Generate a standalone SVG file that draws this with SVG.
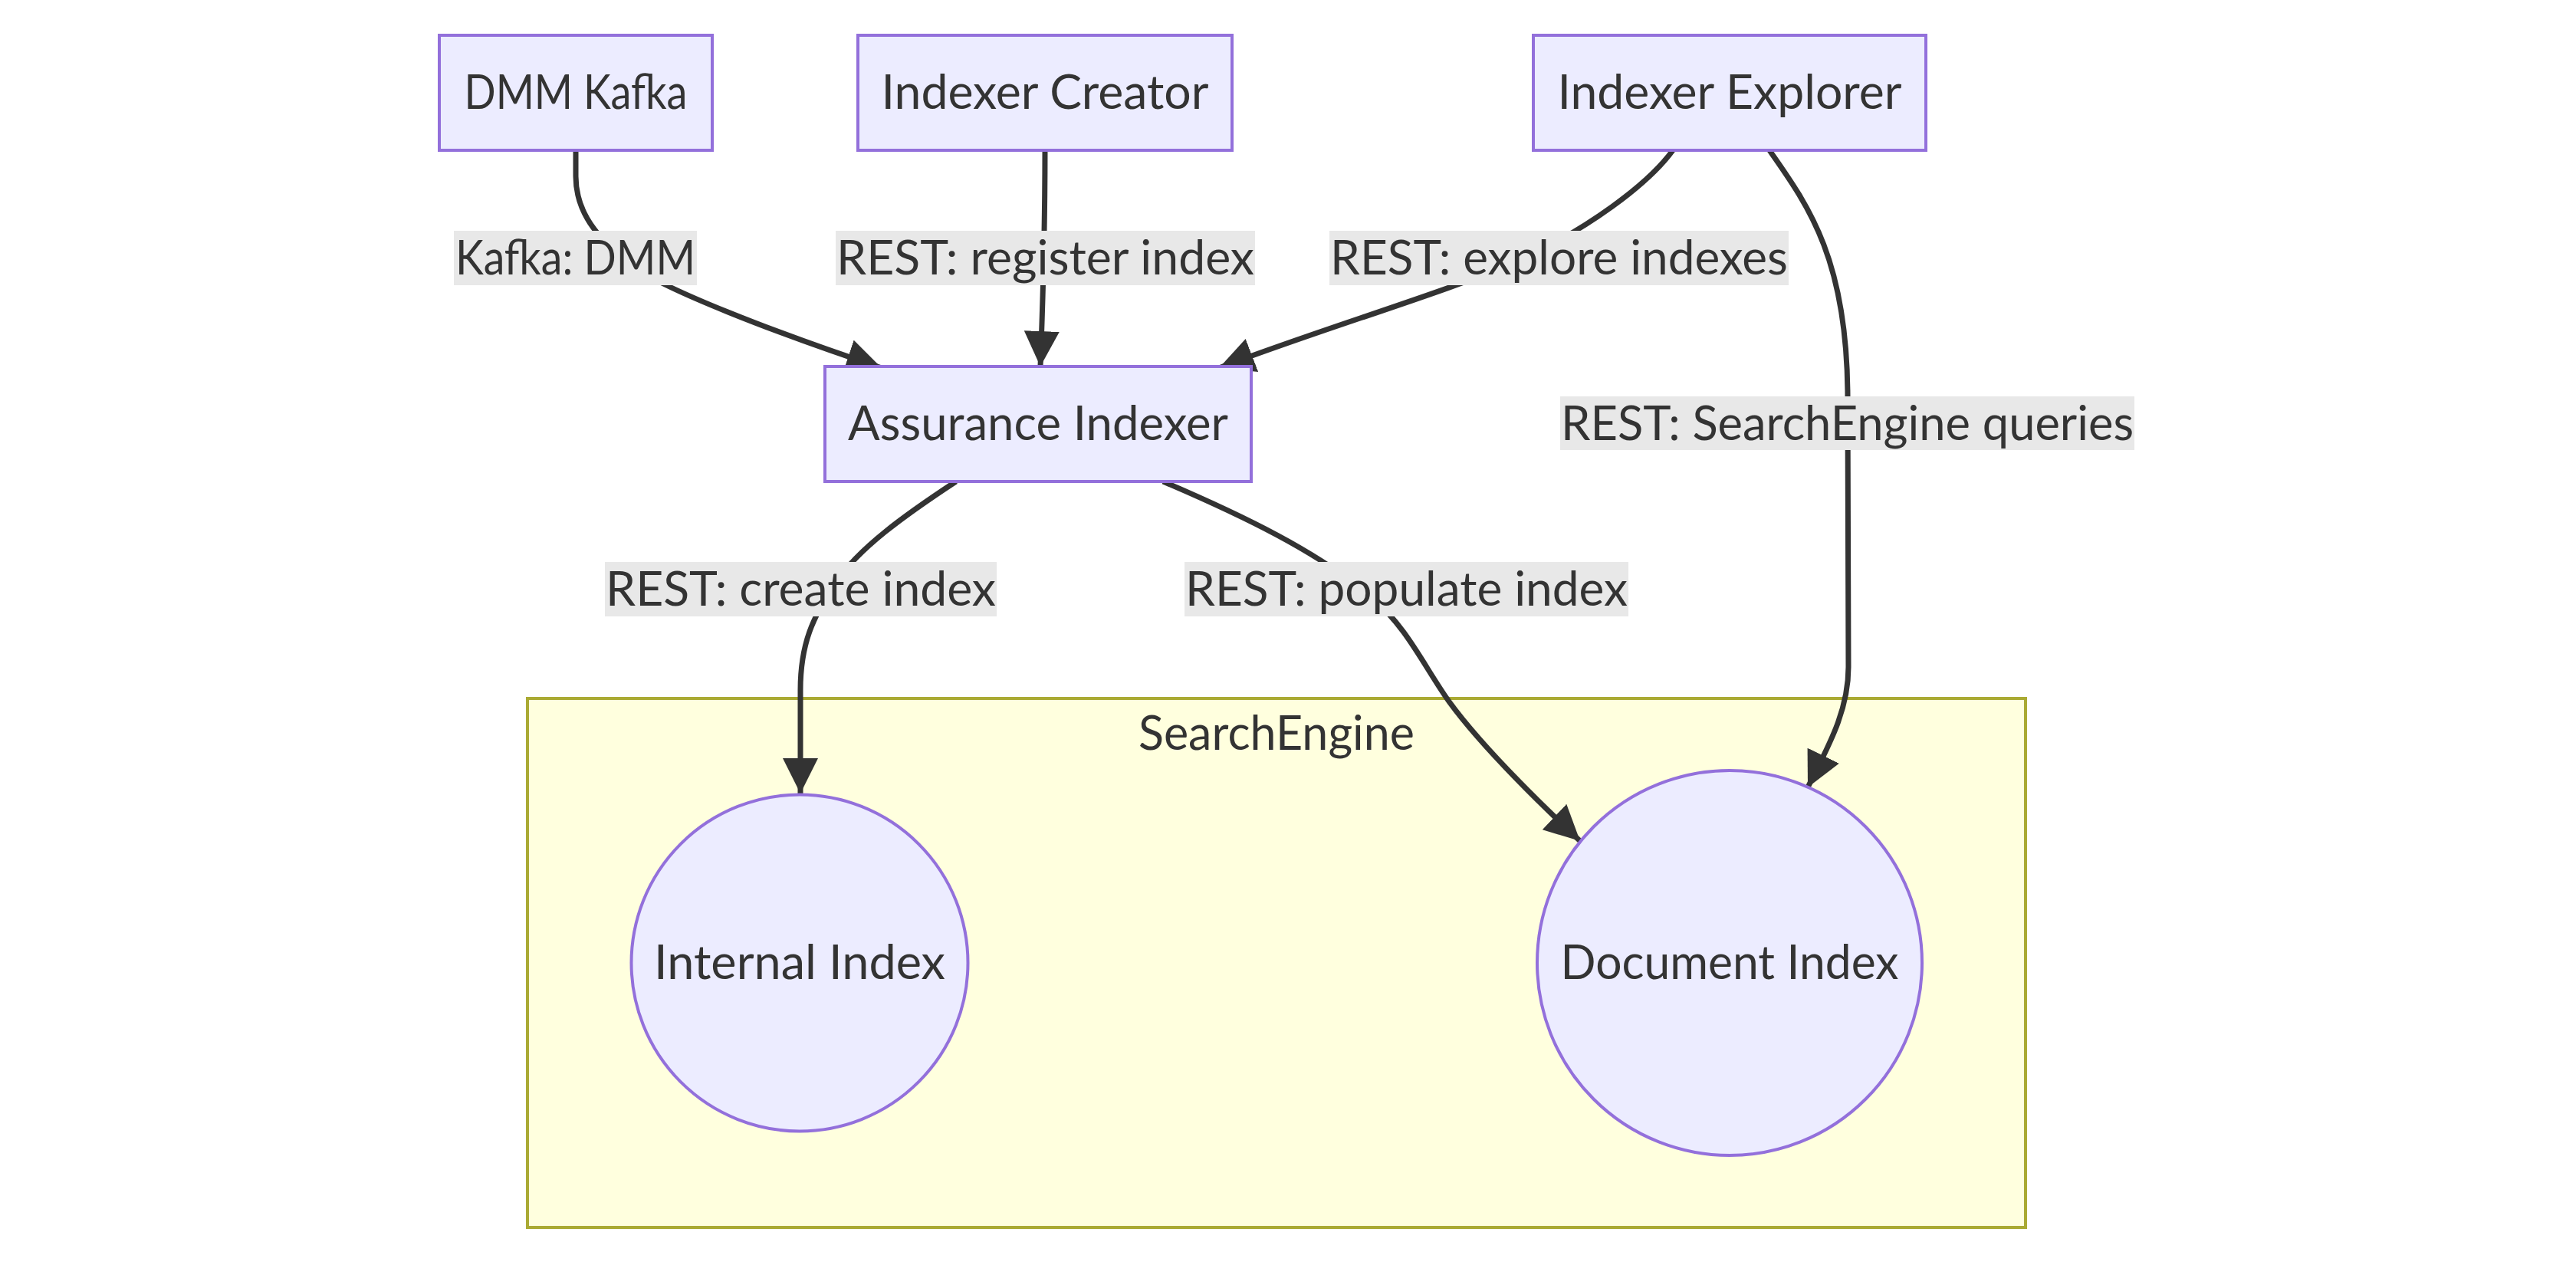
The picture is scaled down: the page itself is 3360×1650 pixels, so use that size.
<svg xmlns="http://www.w3.org/2000/svg" width="3360" height="1650" viewBox="0 0 3360 1650">
<style>
  text { font-family: Lato, "Liberation Sans", sans-serif; font-size: 62px; fill: #333333; text-anchor: middle; }
  .node rect, .node circle { fill: #ECECFF; stroke: #9370DB; stroke-width: 4; }
  .cluster rect { fill: #FFFFDE; stroke: #AAAA33; stroke-width: 4; }
  .edge { fill: none; stroke: #333333; stroke-width: 7; marker-end: url(#arrow); }
  .elabel rect { fill: #E8E8E8; }
</style>
<defs>
  <marker id="arrow" viewBox="0 0 10 10" refX="10" refY="5" markerUnits="userSpaceOnUse" markerWidth="46" markerHeight="46" orient="auto">
    <path d="M0,0 L10,5 L0,10 z" fill="#333333"/>
  </marker>
</defs>
<rect x="0" y="0" width="3360" height="1650" fill="#FFFFFF"/>

<g id="cluster-SearchEngine" class="cluster">
  <rect x="688" y="911" width="1954" height="690"/>
  <text x="1665" y="978" textLength="360" lengthAdjust="spacingAndGlyphs">SearchEngine</text>
</g>

<g id="connectors">
  <path id="e-kafka" class="edge" d="M751,196 L751,230 C751,285 790,320 830,350 C870,378 1000,430 1150,480"/>
  <path id="e-creator" class="edge" d="M1363,196 C1363,300 1360,400 1357,478"/>
  <path id="e-explore" class="edge" d="M2182,196 C2150,240 2070,300 1980,340 C1890,380 1720,430 1590,480"/>
  <path id="e-queries" class="edge" d="M2308,196 C2360,270 2410,340 2410,520 L2411,870 C2411,930 2382,978 2358,1027"/>
  <path id="e-create" class="edge" d="M1247,628 C1180,672 1120,715 1090,760 C1060,805 1044,840 1044,900 L1044,1035"/>
  <path id="e-populate" class="edge" d="M1517,628 C1620,672 1720,720 1790,780 C1835,818 1858,870 1890,915 C1930,970 1995,1035 2061,1097"/>
</g>

<g id="edge-labels">
  <g class="elabel"><rect x="592" y="301" width="317" height="71"/><text x="750.5" y="358" textLength="313" lengthAdjust="spacingAndGlyphs">Kafka: DMM</text></g>
  <g class="elabel"><rect x="1090" y="301" width="547" height="71"/><text x="1363.5" y="358" textLength="545" lengthAdjust="spacingAndGlyphs">REST: register index</text></g>
  <g class="elabel"><rect x="1734" y="301" width="599" height="71"/><text x="2033.5" y="358" textLength="597" lengthAdjust="spacingAndGlyphs">REST: explore indexes</text></g>
  <g class="elabel"><rect x="2035" y="517" width="749" height="70"/><text x="2409.5" y="573.5" textLength="747" lengthAdjust="spacingAndGlyphs">REST: SearchEngine queries</text></g>
  <g class="elabel"><rect x="789" y="733" width="511" height="71"/><text x="1044.5" y="790" textLength="509" lengthAdjust="spacingAndGlyphs">REST: create index</text></g>
  <g class="elabel"><rect x="1545" y="733" width="579" height="71"/><text x="1834.5" y="790" textLength="577" lengthAdjust="spacingAndGlyphs">REST: populate index</text></g>
</g>

<g id="node-DMMKafka" class="node">
  <rect x="573" y="46" width="356" height="150"/>
  <text x="751" y="142" textLength="291" lengthAdjust="spacingAndGlyphs">DMM Kafka</text>
</g>
<g id="node-IndexerCreator" class="node">
  <rect x="1119" y="46" width="488" height="150"/>
  <text x="1363" y="142" textLength="427" lengthAdjust="spacingAndGlyphs">Indexer Creator</text>
</g>
<g id="node-IndexerExplorer" class="node">
  <rect x="2000" y="46" width="512" height="150"/>
  <text x="2256" y="142" textLength="449" lengthAdjust="spacingAndGlyphs">Indexer Explorer</text>
</g>
<g id="node-AssuranceIndexer" class="node">
  <rect x="1076" y="478" width="556" height="150"/>
  <text x="1354" y="574" textLength="496" lengthAdjust="spacingAndGlyphs">Assurance Indexer</text>
</g>
<g id="node-InternalIndex" class="node">
  <circle cx="1043" cy="1256" r="219.5"/>
  <text x="1043" y="1277" textLength="380" lengthAdjust="spacingAndGlyphs">Internal Index</text>
</g>
<g id="node-DocumentIndex" class="node">
  <circle cx="2256" cy="1256" r="251"/>
  <text x="2256" y="1277" textLength="441" lengthAdjust="spacingAndGlyphs">Document Index</text>
</g>
</svg>
